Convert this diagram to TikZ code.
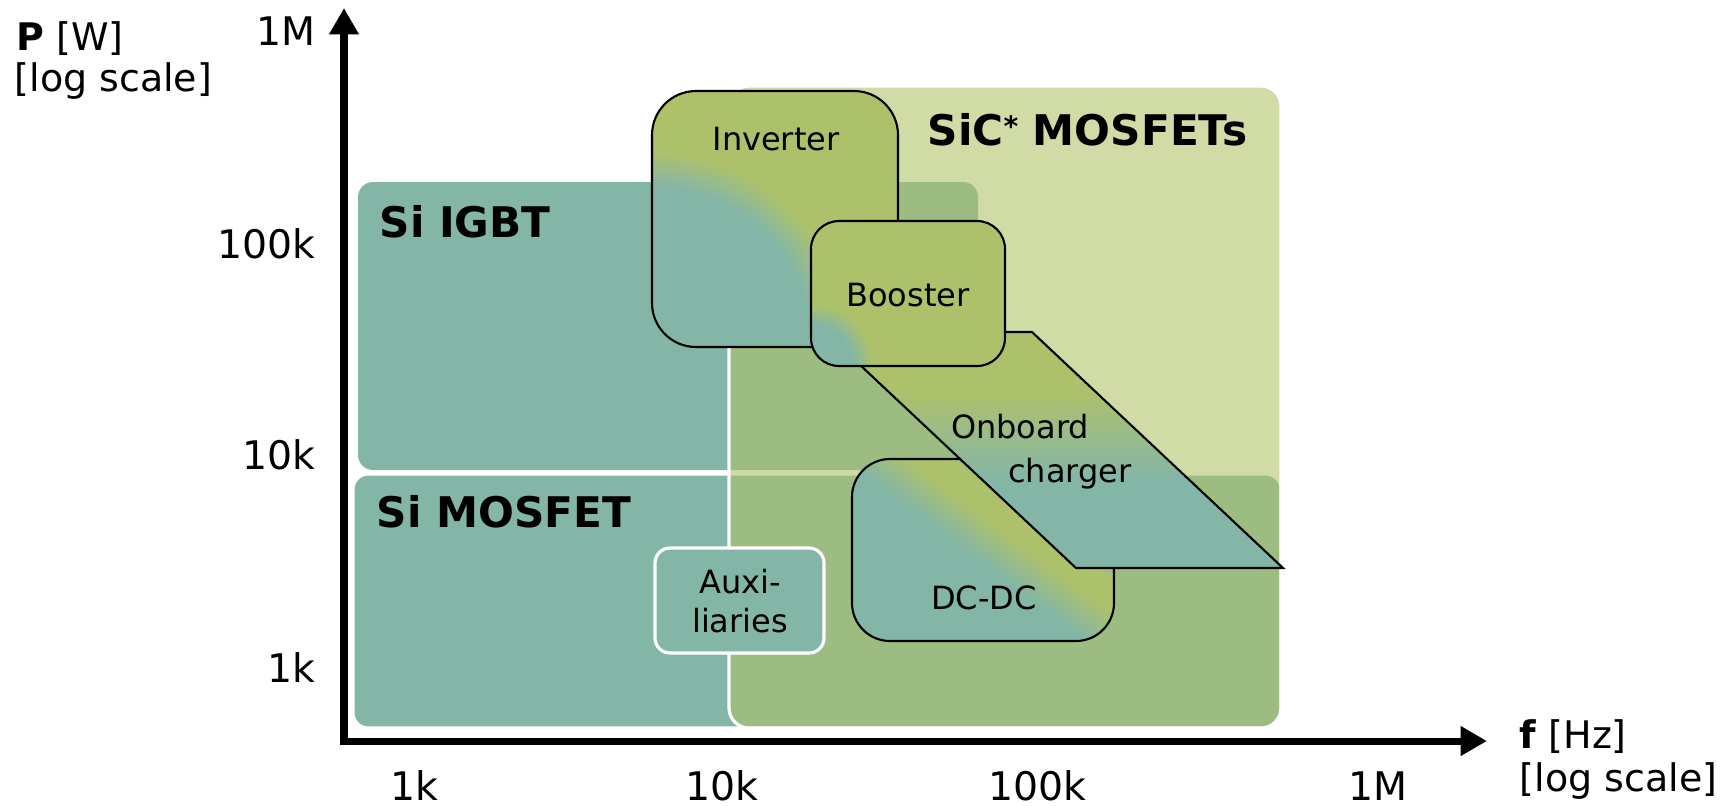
\documentclass[tikz,border=0pt]{standalone}
\usepackage{fontspec}
\setmainfont{DejaVu Sans}
\usetikzlibrary{arrows.meta}
\definecolor{tealc}{HTML}{84B6A7}
\definecolor{greenc}{HTML}{ADC16A}
\definecolor{sicc}{HTML}{AEC166}
% note: pgf maps the central 50bp square of a shading onto the path's bounding box
\pgfdeclareradialshading{invsh}{\pgfpoint{0bp}{0bp}}{color(0bp)=(tealc); color(8bp)=(tealc); color(9.75bp)=(greenc); color(50bp)=(greenc)}
\pgfdeclareradialshading{boostsh}{\pgfpoint{0bp}{0bp}}{color(0bp)=(tealc); color(5.2bp)=(tealc); color(7.8bp)=(greenc); color(50bp)=(greenc)}
\pgfdeclareverticalshading{obcsh}{100bp}{color(0bp)=(tealc); color(43.5bp)=(tealc); color(62.5bp)=(greenc); color(100bp)=(greenc)}
\pgfdeclarehorizontalshading{dcsh}{100bp}{color(0bp)=(tealc); color(45.6bp)=(tealc); color(48.8bp)=(greenc); color(50.8bp)=(greenc); color(52.6bp)=(tealc); color(100bp)=(tealc)}
\begin{document}
\begin{tikzpicture}[x=0.01cm,y=-0.01cm,
  axlab/.style={font=\fontsize{10.8}{13}\selectfont, inner sep=0},
  ticklab/.style={font=\fontsize{11.2}{13}\selectfont, inner sep=0},
  reglab/.style={font=\fontsize{12}{14}\selectfont\bfseries, inner sep=0, anchor=base west},
  boxlab/.style={font=\fontsize{9.1}{11}\selectfont, inner sep=0, anchor=base},
  appbox/.style={draw=black, line width=0.6pt},
  wborder/.style={draw=white, line width=0.9pt}]
\useasboundingbox (0,0) rectangle (1727,805);

% regions
\fill[tealc, rounded corners=0.15cm] (358,182) rectangle (978,470);
\filldraw[fill=tealc, wborder, rounded corners=0.15cm] (353,474) rectangle (1281,728);
\filldraw[fill=sicc, fill opacity=0.58, wborder, rounded corners=0.2cm] (729,86) rectangle (1281,728);

\node[reglab] (sigbt) at (379,237) {Si IGBT};
\node[reglab] (simos) at (376,527) {Si MOSFET};
\node[reglab] (sic) at (927,145) {SiC\raisebox{2.5pt}{\fontsize{8}{8}\selectfont *} MOSFETs};

% Inverter
\begin{scope}
  \clip[rounded corners=0.44cm] (652,91) rectangle (898,347);
  \shade[shading=invsh] (152,-153) rectangle (1152,847);
\end{scope}
\draw[appbox, rounded corners=0.44cm] (652,91) rectangle (898,347);
\node[boxlab] (inv) at (776,150) {Inverter};

% DC-DC
\begin{scope}
  \clip[rounded corners=0.38cm] (852,459) rectangle (1114,641);
  \begin{scope}[transform canvas={shift={(1020,525)},rotate=53}]
    \shade[shading=dcsh] (-300,-300) rectangle (300,300);
  \end{scope}
\end{scope}
\draw[appbox, rounded corners=0.38cm] (852,459) rectangle (1114,641);
\node[boxlab] (dcdc) at (984,609) {DC-DC};

% Onboard charger
\coordinate (p1) at (825,332);
\coordinate (p2) at (1032,332);
\coordinate (p3) at (1283,568);
\coordinate (p4) at (1076,568);
\shadedraw[shading=obcsh, appbox] (p1) -- (p2) -- (p3) -- (p4) -- cycle;
\node[boxlab] (onb) at (1020,438) {Onboard};
\node[boxlab] (chg) at (1070,482) {charger};

% Booster
\begin{scope}
  \clip[rounded corners=0.28cm] (811,221) rectangle (1005,366);
  \shade[shading=boostsh] (611,166) rectangle (1011,566);
\end{scope}
\draw[appbox, rounded corners=0.28cm] (811,221) rectangle (1005,366);
\node[boxlab] (boost) at (908,306) {Booster};

% Auxiliaries
\filldraw[fill=tealc, wborder, rounded corners=0.15cm] (655,548) rectangle (824,653);
\node[boxlab] (aux1) at (740,593) {Auxi-};
\node[boxlab] (aux2) at (740,632) {liaries};

% axes
\coordinate (O) at (344,741);
\coordinate (ytip) at (344,8);
\coordinate (xtip) at (1487,741);
\draw[line width=2pt, {Triangle[width=8pt,length=7.5pt]}-{Triangle[width=8pt,length=7.5pt]}] (ytip) -- (O) -- (xtip);

\node[ticklab, anchor=base east] (y1M) at (316,45) {1M};
\node[ticklab, anchor=base east] (y100k) at (316,258) {100k};
\node[ticklab, anchor=base east] (y10k) at (316,469) {10k};
\node[ticklab, anchor=base east] (y1k) at (316,682) {1k};

\node[ticklab, anchor=base] (x1k) at (414,800) {1k};
\node[ticklab, anchor=base] (x10k) at (722,800) {10k};
\node[ticklab, anchor=base] (x100k) at (1037,800) {100k};
\node[ticklab, anchor=base] (x1M) at (1378,800) {1M};

\node[axlab, anchor=base west] (plab) at (16,50) {\textbf{P} [W]};
\node[axlab, anchor=base west] (plog) at (14,91) {[log scale]};
\node[axlab, anchor=base west] (flab) at (1519,748) {\textbf{f} [Hz]};
\node[axlab, anchor=base west] (flog) at (1519,791) {[log scale]};
\end{tikzpicture}
\end{document}
